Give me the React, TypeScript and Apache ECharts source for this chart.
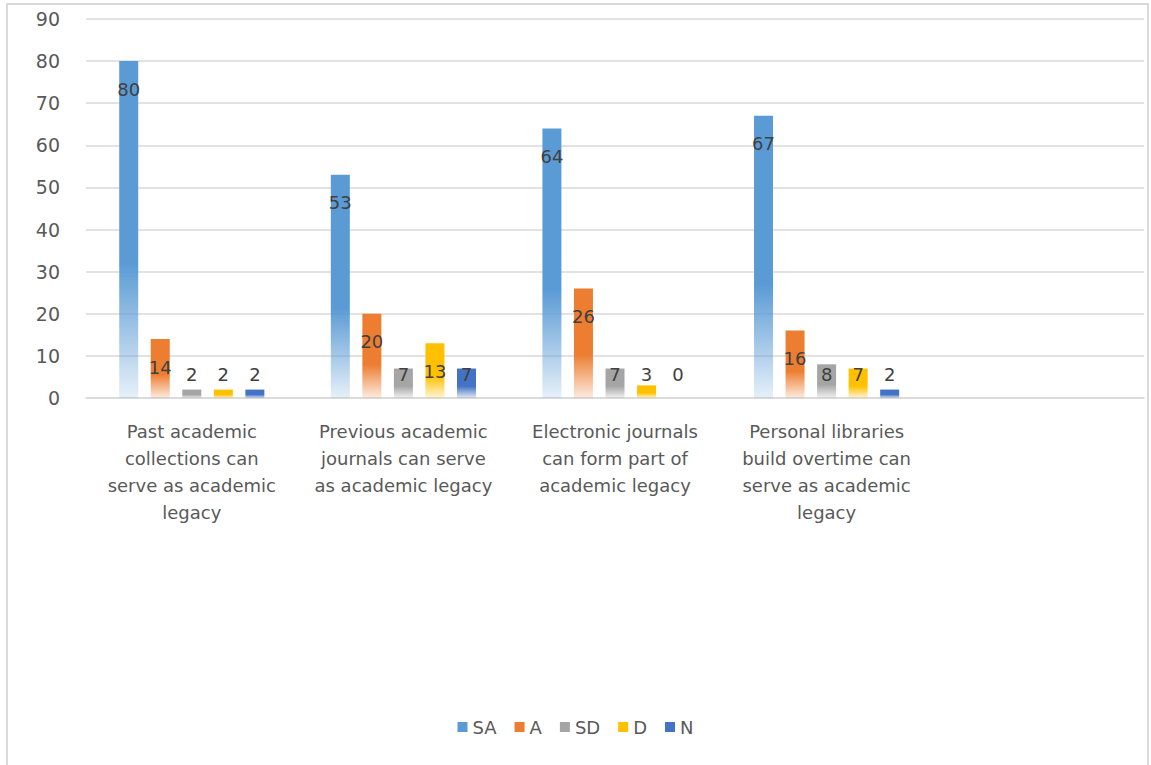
import React, { useEffect, useRef } from "react";
import * as echarts from "echarts";

// Survey statements (last slot left empty on the axis)
const categories = [
  "Past academic\ncollections can\nserve as academic\nlegacy",
  "Previous academic\njournals can serve\nas academic legacy",
  "Electronic journals\ncan form part of\nacademic legacy",
  "Personal libraries\nbuild overtime can\nserve as academic\nlegacy",
  "",
];

const seriesNames = ["SA", "A", "SD", "D", "N"];
const SA = [80, 53, 64, 67];
const A = [14, 20, 26, 16];
const SD = [2, 7, 7, 8];
const D = [2, 13, 3, 7];
const N = [2, 7, 0, 2];
const seriesValues = [SA, A, SD, D, N];

const colors = ["#5B9BD5", "#ED7D31", "#A5A5A5", "#FFC000", "#4472C4"];
const yTicks = { min: 0, max: 90, interval: 10 };

function fade(hex: string, alpha: number) {
  const n = parseInt(hex.slice(1), 16);
  return `rgba(${(n >> 16) & 255},${(n >> 8) & 255},${n & 255},${alpha})`;
}

export default function App() {
  const ref = useRef<HTMLDivElement>(null);

  useEffect(() => {
    if (!ref.current) return;
    const chart = echarts.init(ref.current, undefined, { renderer: "svg" });
    const font = "DejaVu Sans";

    const series = seriesNames.map((name, i) => ({
      name,
      type: "bar",
      barWidth: 19,
      barGap: "66%",
      itemStyle: {
        color: new echarts.graphic.LinearGradient(0, 0, 0, 1, [
          { offset: 0, color: colors[i] },
          { offset: 0.6, color: colors[i] },
          { offset: 1, color: fade(colors[i], 0.15) },
        ]),
      },
      data: seriesValues[i].map((v) => ({
        value: v,
        label:
          v >= 10
            ? { position: "insideTop", distance: 19 }
            : { position: "insideBottom", distance: 15 },
      })),
      label: {
        show: true,
        color: "#404040",
        fontFamily: font,
        fontSize: 18,
      },
    }));

    chart.setOption({
      animation: false,
      backgroundColor: "#ffffff",
      color: colors,
      graphic: [
        {
          type: "rect",
          shape: { x: 7, y: 4, width: 1141, height: 820 },
          style: { fill: "none", stroke: "#d9d9d9", lineWidth: 2 },
          silent: true,
        },
      ],
      grid: { left: 86, right: 7, top: 19, bottom: 367 },
      legend: {
        data: seriesNames.map((name, i) => ({
          name,
          itemStyle: { color: colors[i] },
        })),
        bottom: 24,
        left: "center",
        icon: "rect",
        itemWidth: 10,
        itemHeight: 10,
        itemGap: 18,
        textStyle: { color: "#595959", fontFamily: font, fontSize: 18 },
      },
      xAxis: {
        type: "category",
        data: categories,
        axisLine: { lineStyle: { color: "#d9d9d9", width: 1.5 } },
        axisTick: { show: false },
        axisLabel: {
          interval: 0,
          margin: 20,
          color: "#595959",
          fontFamily: font,
          fontSize: 18,
          lineHeight: 27,
          verticalAlign: "top",
        },
      },
      yAxis: {
        type: "value",
        ...yTicks,
        axisLine: { show: false },
        axisTick: { show: false },
        splitLine: { lineStyle: { color: "#d9d9d9", width: 1.5 } },
        axisLabel: {
          margin: 26,
          color: "#595959",
          fontFamily: font,
          fontSize: 19,
        },
      },
      series,
    });

    return () => chart.dispose();
  }, []);

  return (
    <div
      ref={ref}
      style={{ position: "fixed", left: 0, top: 0, width: 1151, height: 765 }}
    />
  );
}
